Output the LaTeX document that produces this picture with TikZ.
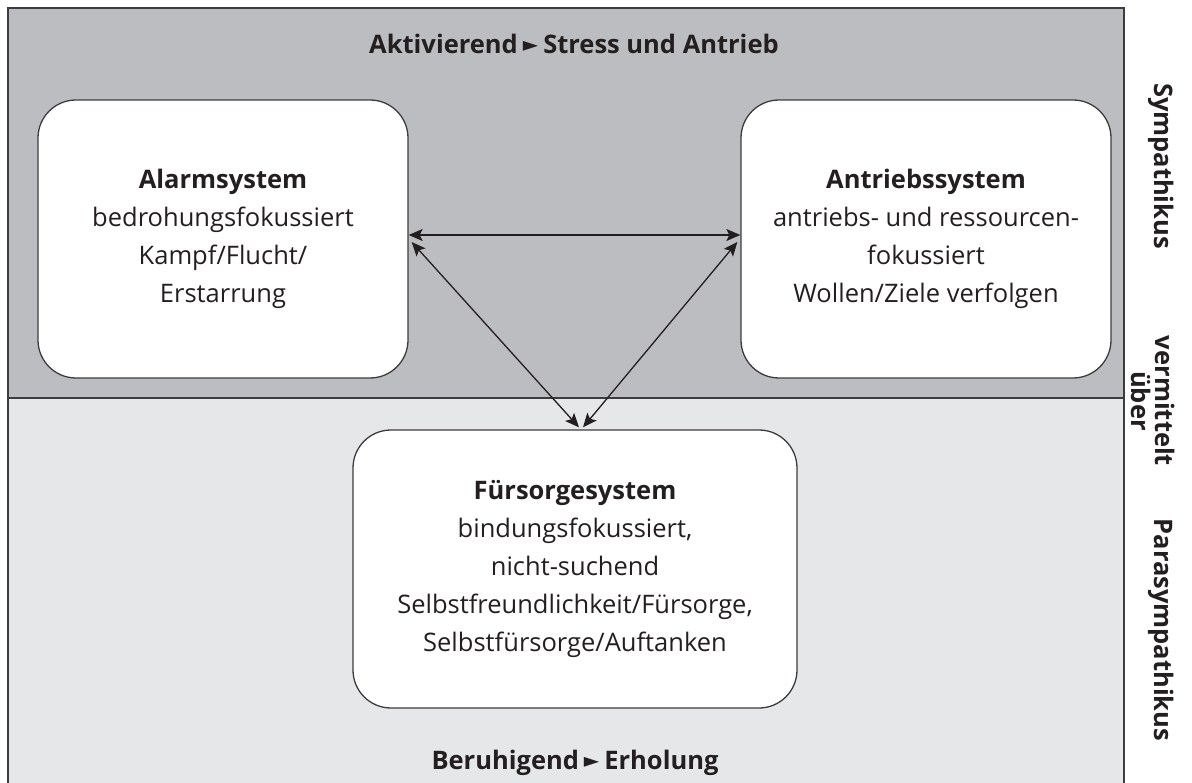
\documentclass[tikz,border=0pt]{standalone}
\usepackage{fontspec}
\setmainfont{Open Sans}
\newfontfamily\symbolfont{DejaVu Sans}
\usetikzlibrary{arrows.meta}
\definecolor{BandDark}{HTML}{BCBDC0}
\definecolor{BandLight}{HTML}{E6E7E8}
\definecolor{FrameGray}{HTML}{3C3C3E}
\definecolor{InkBlack}{HTML}{231F20}

\newcommand{\pointer}{{\symbolfont\fontsize{20}{20}\selectfont\raisebox{2pt}{►}}}

\tikzset{
  systembox/.style={draw=FrameGray, line width=1.3pt, fill=white, rounded corners=38pt,
    align=center, text=InkBlack, font={\fontsize{25.5}{38}\selectfont}},
  bandlabel/.style={text=InkBlack, font={\bfseries\fontsize{25.5}{30}\selectfont}},
  sidelabel/.style={text=InkBlack, rotate=-90, align=center,
    font={\bfseries\fontsize{25.5}{24}\selectfont}},
  link/.style={InkBlack, line width=1.3pt, {Stealth[length=14pt,width=12pt,inset=3pt]}-{Stealth[length=14pt,width=12pt,inset=3pt]}}
}

\begin{document}
\begin{tikzpicture}[x=1pt, y=-1pt]
    \useasboundingbox (0,0) rectangle (1192,783);

    % Bands
    \fill[BandDark] (8,8) rectangle (1124,398);
    \fill[BandLight] (8,398) rectangle (1124,783);
    % Frame and divider
    \draw[FrameGray, line width=1.3pt] (8,783) -- (8,8) -- (1124,8) -- (1124,783);
    \draw[FrameGray, line width=1.3pt] (8,398) -- (1124,398);

    % Band labels
    \node[bandlabel] (top) at (574,44) {Aktivierend\hspace{5pt}\pointer\hspace{5pt}Stress und Antrieb};
    \node[bandlabel] (bottom) at (575,763) {Beruhigend\hspace{5pt}\pointer\hspace{5pt}Erholung};

    % Systems
    \node[systembox, minimum width=370pt, minimum height=278pt] (alarm) at (223,239)
        {\textbf{Alarmsystem}\\bedrohungsfokussiert\\Kampf/Flucht/\\Erstarrung};
    \node[systembox, minimum width=370pt, minimum height=278pt] (antrieb) at (926,239)
        {\textbf{Antriebssystem}\\antriebs- und ressourcen-\\fokussiert\\Wollen/Ziele verfolgen};
    \node[systembox, minimum width=444pt, minimum height=278pt] (fuersorge) at (575,569)
        {\textbf{Fürsorgesystem}\\bindungsfokussiert,\\nicht-suchend\\Selbstfreundlichkeit/Fürsorge,\\Selbstfürsorge/Auftanken};

    % Arrow ends
    \coordinate (alarmH) at ([yshift=4pt]alarm.east);
    \coordinate (antriebH) at ([yshift=4pt]antrieb.west);
    \coordinate (alarmD) at ([xshift=3pt,yshift=-3pt]alarm.east);
    \coordinate (antriebD) at ([xshift=-3pt,yshift=-3pt]antrieb.west);
    \coordinate (fuerL) at ([xshift=4pt,yshift=2pt]fuersorge.north);
    \coordinate (fuerR) at ([xshift=8pt,yshift=2pt]fuersorge.north);

    % Connections
    \draw[link] (alarmH) -- (antriebH);
    \draw[link] (alarmD) -- (fuerL);
    \draw[link] (antriebD) -- (fuerR);

    % Side labels
    \node[sidelabel] (sym) at (1161,166) {Sympathikus};
    \node[sidelabel] (via) at (1153,401) {vermittelt\\über};
    \node[sidelabel] (para) at (1161,630) {Parasympathikus};

\end{tikzpicture}
\end{document}
